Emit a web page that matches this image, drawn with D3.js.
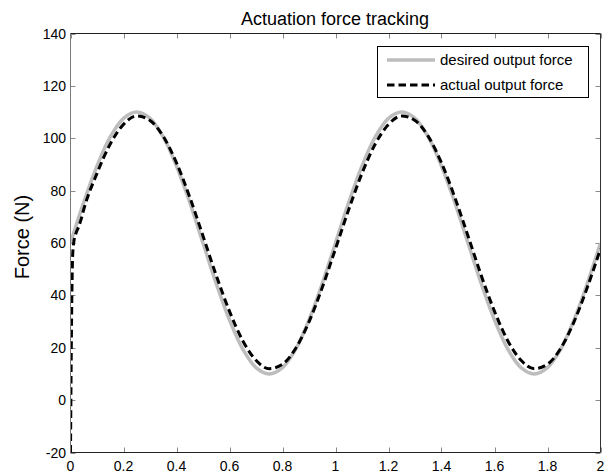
<!DOCTYPE html>
<html>
<head>
<meta charset="utf-8">
<script src="https://cdn.jsdelivr.net/npm/d3@7/dist/d3.min.js"></script>
<style>
  html, body { margin: 0; padding: 0; background: #fff; }
  svg { display: block; font-family: "Liberation Sans", Arial, sans-serif; }
</style>
</head>
<body>
<svg id="chart" width="605" height="474"></svg>
<script>
// Sample times (s) and force values (N)
const timeDesired = [0,0.05,0.1,0.15,0.2,0.25,0.3,0.35,0.4,0.45,0.5,0.55,0.6,0.65,0.7,0.75,0.8,0.85,0.9,0.95,
                     1,1.05,1.1,1.15,1.2,1.25,1.3,1.35,1.4,1.45,1.5,1.55,1.6,1.65,1.7,1.75,1.8,1.85,1.9,1.95,2];
const desiredForce = [60,75.5,89.4,100.5,107.6,110,107.6,100.5,89.4,75.5,60,44.5,30.6,19.5,12.4,10,12.4,19.5,30.6,44.5,
                      60,75.5,89.4,100.5,107.6,110,107.6,100.5,89.4,75.5,60,44.5,30.6,19.5,12.4,10,12.4,19.5,30.6,44.5,60];

const timeActual = [0,0.004,0.008,0.012,0.02,0.03,0.04,0.05,0.1,0.15,0.2,0.25,0.3,0.35,0.4,0.45,0.5,0.55,0.6,0.65,0.7,0.75,0.8,0.85,0.9,0.95,
                    1,1.05,1.1,1.15,1.2,1.25,1.3,1.35,1.4,1.45,1.5,1.55,1.6,1.65,1.7,1.75,1.8,1.85,1.9,1.95,2];
const actualForce = [-20,30,55,60,63.5,66,69,72.8,86.6,97.8,105.3,108.5,106.8,100.7,90.6,77.5,62.7,47.6,33.9,22.7,15.2,12.0,13.7,19.8,29.9,43.0,
                     57.8,72.8,86.6,97.8,105.3,108.5,106.8,100.7,90.6,77.5,62.7,47.6,33.9,22.7,15.2,12.0,13.7,19.8,29.9,43.0,57.8];

const xTicks = [0,0.2,0.4,0.6,0.8,1,1.2,1.4,1.6,1.8,2];
const yTicks = [-20,0,20,40,60,80,100,120,140];
const seriesNames = ["desired output force", "actual output force"];

const svg = d3.select("#chart");
const L = 70.5, R = 600.5, T = 33.5, B = 452.5;

const x = d3.scaleLinear().domain([0, 2]).range([L, R]);
const y = d3.scaleLinear().domain([-20, 140]).range([B, T]);

const fmt = d => String(d);
const dash = "7.5,4";

// Clip region for the data lines
svg.append("clipPath").attr("id", "plotArea")
  .append("rect").attr("x", L).attr("y", T - 2).attr("width", R - L).attr("height", B - T + 2);

// Tick marks (inward, on all four sides)
const tickLen = 5;
const ticks = svg.append("g").attr("stroke", "#8a8a8a").attr("stroke-width", 1);
xTicks.forEach(t => {
  const px = Math.round(x(t)) + 0.5;
  ticks.append("line").attr("x1", px).attr("x2", px).attr("y1", B).attr("y2", B - tickLen);
  ticks.append("line").attr("x1", px).attr("x2", px).attr("y1", T).attr("y2", T + tickLen);
});
yTicks.forEach(v => {
  const py = Math.round(y(v)) + 0.5;
  ticks.append("line").attr("x1", L).attr("x2", L + tickLen).attr("y1", py).attr("y2", py);
  ticks.append("line").attr("x1", R).attr("x2", R - tickLen).attr("y1", py).attr("y2", py);
});

// Tick labels
svg.append("g").selectAll("text").data(xTicks).join("text")
  .attr("x", d => x(d)).attr("y", 471)
  .attr("text-anchor", "middle").attr("font-size", 14).attr("fill", "#000")
  .text(fmt);
svg.append("g").selectAll("text").data(yTicks).join("text")
  .attr("x", 66).attr("y", d => y(d) + 5)
  .attr("text-anchor", "end").attr("font-size", 14).attr("fill", "#000")
  .text(fmt);

// Data lines
const plot = svg.append("g").attr("clip-path", "url(#plotArea)");
plot.append("path")
  .datum(timeDesired.map((t, i) => [t, desiredForce[i]]))
  .attr("fill", "none").attr("stroke", "#bdbdbd").attr("stroke-width", 3.5)
  .attr("stroke-linejoin", "round")
  .attr("d", d3.line().curve(d3.curveCatmullRom.alpha(0.5)).x(d => x(d[0])).y(d => y(d[1])));
plot.append("path")
  .datum(timeActual.map((t, i) => [t, actualForce[i]]))
  .attr("fill", "none").attr("stroke", "#000").attr("stroke-width", 3)
  .attr("stroke-dasharray", dash)
  .attr("d", d3.line().curve(d3.curveMonotoneX).x(d => x(d[0])).y(d => y(d[1])));

// Axes box
svg.append("line").attr("x1", L).attr("x2", L).attr("y1", T).attr("y2", B).attr("stroke", "#7a7a7a");
svg.append("line").attr("x1", R).attr("x2", R).attr("y1", T).attr("y2", B).attr("stroke", "#333");
svg.append("line").attr("x1", L).attr("x2", R).attr("y1", T).attr("y2", T).attr("stroke", "#222");
svg.append("line").attr("x1", L).attr("x2", R).attr("y1", B).attr("y2", B).attr("stroke", "#222");

// Title and axis label
svg.append("text").attr("x", 335).attr("y", 25)
  .attr("text-anchor", "middle").attr("font-size", 18).text("Actuation force tracking");
svg.append("text")
  .attr("transform", `translate(29,${(T + B) / 2 - 6}) rotate(-90)`)
  .attr("text-anchor", "middle").attr("font-size", 20).text("Force (N)");

// Legend
const lg = svg.append("g");
lg.append("rect").attr("x", 377.5).attr("y", 46.5).attr("width", 211).attr("height", 51)
  .attr("fill", "#fff").attr("stroke", "#000");
const rows = [
  { name: seriesNames[0], stroke: "#bdbdbd", width: 3.5, dash: null, y: 60 },
  { name: seriesNames[1], stroke: "#000", width: 3, dash: dash, y: 85 }
];
rows.forEach(r => {
  lg.append("line").attr("x1", 387).attr("x2", 435).attr("y1", r.y).attr("y2", r.y)
    .attr("stroke", r.stroke).attr("stroke-width", r.width)
    .attr("stroke-dasharray", r.dash);
  lg.append("text").attr("x", 440).attr("y", r.y + 5).attr("font-size", 15).text(r.name);
});
</script>
</body>
</html>
